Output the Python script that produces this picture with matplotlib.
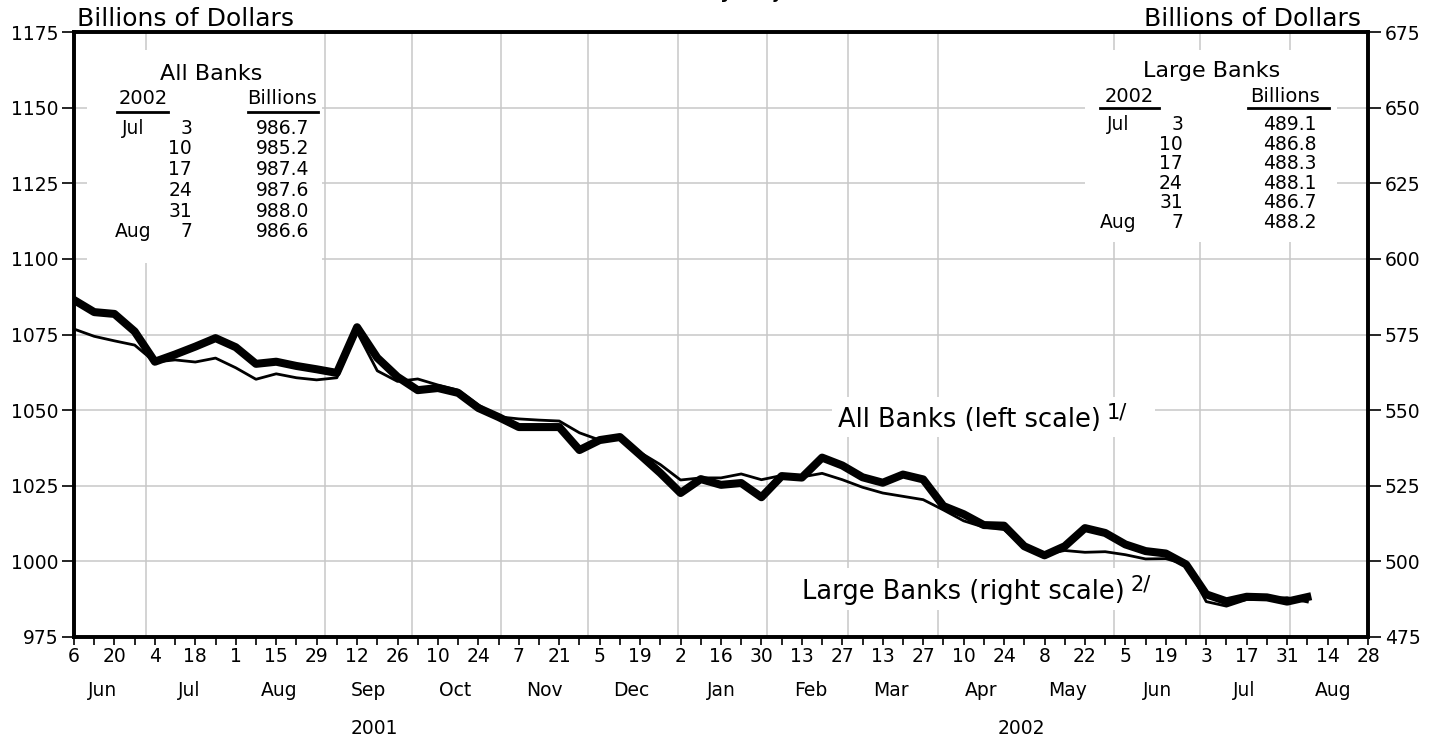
import numpy as np
import pandas as pd
import matplotlib
matplotlib.use('Agg')
import matplotlib.pyplot as plt
import matplotlib.dates as mdates
import matplotlib.transforms as mtransforms
from matplotlib.patches import Rectangle
from matplotlib.lines import Line2D

## weekly data, Wednesdays from Jun 6 2001 to Aug 7 2002
start_week = '2001-06-06'
all_banks = [1076.8, 1074.4, 1072.9, 1071.5, 1065.9, 1066.6, 1065.9, 1067.2, 1064.0, 1060.2,
             1062.0, 1060.7, 1060.0, 1060.7, 1075.8, 1063.0, 1059.5, 1060.3, 1058.3, 1056.6,
             1051.7, 1047.8, 1047.1, 1046.7, 1046.4, 1042.5, 1040.1, 1040.8, 1036.0, 1032.0,
             1026.9, 1027.6, 1027.6, 1028.9, 1027.0, 1028.4, 1027.9, 1029.1, 1027.0, 1024.5,
             1022.6, 1021.5, 1020.4, 1017.0, 1013.4, 1011.3, 1010.5, 1005.0, 1002.3, 1003.6,
             1003.0, 1003.2, 1002.2, 1000.8, 1000.9, 999.0, 986.7, 985.2, 987.4, 987.6,
             988.0, 986.6]
large_banks = [586.4, 582.4, 581.8, 576.0, 566.0, 568.4, 571.0, 573.8, 570.8, 565.3,
               566.0, 564.6, 563.5, 562.3, 577.4, 567.3, 561.0, 556.6, 557.3, 555.7,
               550.7, 547.7, 544.4, 544.4, 544.4, 536.8, 540.1, 541.1, 535.2, 529.2,
               522.6, 527.2, 525.3, 525.9, 521.2, 528.2, 527.7, 534.3, 531.7, 527.8,
               526.0, 528.7, 527.1, 518.3, 515.6, 512.0, 511.8, 505.0, 502.0, 505.0,
               511.0, 509.4, 505.6, 503.4, 502.6, 499.0, 489.1, 486.8, 488.3, 488.1,
               486.7, 488.2]

## inset tables
all_rows = [('Jul', '3', '986.7'), ('', '10', '985.2'), ('', '17', '987.4'),
            ('', '24', '987.6'), ('', '31', '988.0'), ('Aug', '7', '986.6')]
large_rows = [('Jul', '3', '489.1'), ('', '10', '486.8'), ('', '17', '488.3'),
              ('', '24', '488.1'), ('', '31', '486.7'), ('Aug', '7', '488.2')]

mlabels = ['Jun', 'Jul', 'Aug', 'Sep', 'Oct', 'Nov', 'Dec',
           'Jan', 'Feb', 'Mar', 'Apr', 'May', 'Jun', 'Jul', 'Aug']

W, H = 1451, 738
plt.rcParams['font.family'] = ['DejaVu Sans']

def fx(x):
    return x / W

def fy(y):
    return 1 - y / H

fig = plt.figure(figsize=(W / 100, H / 100), dpi=100)
ax = fig.add_axes([fx(74), fy(637), (1368 - 74) / W, (637 - 32) / H])

weeks = pd.date_range(start_week, periods=len(all_banks), freq='7D')
ax.plot(weeks, all_banks, color='black', lw=2.0, zorder=3)
ax.set_ylim(975, 1175)
ax.set_yticks(np.arange(975, 1176, 25))
x0, x1 = pd.Timestamp('2001-06-06'), pd.Timestamp('2002-08-28')
ax.set_xlim(x0, x1)

ax2 = ax.twinx()
ax2.plot(weeks, large_banks, color='black', lw=5.8, zorder=3)
ax2.set_ylim(475, 675)
ax2.set_yticks(np.arange(475, 676, 25))
ax2.set_xlim(x0, x1)

## weekly ticks, every other one labeled
tick_days = pd.date_range(x0, x1, freq='7D')
ax.set_xticks(tick_days)
ax.set_xticklabels([str(d.day) if i % 2 == 0 else '' for i, d in enumerate(tick_days)])
ax.xaxis.set_minor_locator(mdates.MonthLocator())
ax.grid(which='minor', axis='x', color='#c8c8c8', lw=1.1)
ax.grid(which='major', axis='y', color='#c8c8c8', lw=1.1)
ax.grid(which='major', axis='x', visible=False)
ax.tick_params(axis='x', which='major', direction='out', length=6, width=1.2, pad=1, labelsize=13.5)
ax.tick_params(axis='x', which='minor', length=0)
ax.tick_params(axis='y', direction='out', length=9, width=1.2, pad=2, labelsize=13.5)
ax2.tick_params(axis='y', direction='out', length=9, width=1.2, pad=3, labelsize=13.5)
for a in (ax, ax2):
    for s in a.spines.values():
        s.set_linewidth(2.6)

trans = mtransforms.blended_transform_factory(ax.transData, ax.transAxes)
mpos = [pd.Timestamp('2001-06-16')] + [pd.Timestamp(2001 + (m + 6) // 12, (m + 6) % 12 + 1, 16)
                                       for m in range(14)]
for lab, d in zip(mlabels, mpos):
    ax.text(d, -0.088, lab, transform=trans, ha='center', va='center', fontsize=13.5)
ax.text(pd.Timestamp('2001-09-18'), -0.152, '2001', transform=trans, ha='center', va='center', fontsize=13.5)
ax.text(pd.Timestamp('2002-04-30'), -0.152, '2002', transform=trans, ha='center', va='center', fontsize=13.5)

## axis titles
fig.text(fx(77), fy(26), 'Billions of Dollars', ha='left', va='baseline', fontsize=18)
fig.text(fx(1361), fy(26), 'Billions of Dollars', ha='right', va='baseline', fontsize=18)
fig.text(0.5, fy(-3), 'Seasonally adjusted', ha='center', va='baseline', fontsize=18)

## white boxes that break the grid
for (bx0, by0, bx1, by1) in [(87, 50, 322, 263), (1085, 50, 1337, 242),
                             (832, 397, 1155, 437), (795, 568, 1160, 610)]:
    fig.add_artist(Rectangle((fx(bx0), fy(by1)), (bx1 - bx0) / W, (by1 - by0) / H,
                             transform=fig.transFigure, facecolor='white',
                             edgecolor='none', zorder=1))

def draw_table(title, rows, tx, hx, bx, ux1, ux2, mx, dx, vx, ty, hy, uy, ry0, rdy):
    fig.text(fx(tx), fy(ty), title, ha='center', va='center', fontsize=16, zorder=2)
    fig.text(fx(hx), fy(hy), '2002', ha='center', va='center', fontsize=14, zorder=2)
    fig.text(fx(bx), fy(hy), 'Billions', ha='center', va='center', fontsize=14, zorder=2)
    for (u0, u1) in (ux1, ux2):
        fig.add_artist(Line2D([fx(u0), fx(u1)], [fy(uy), fy(uy)], color='black',
                              lw=2, transform=fig.transFigure, zorder=2))
    for i, (m, d, v) in enumerate(rows):
        yy = fy(ry0 + i * rdy)
        fig.text(fx(mx), yy, m, ha='center', va='center', fontsize=13.5, zorder=2)
        fig.text(fx(dx), yy, d, ha='right', va='center', fontsize=13.5, zorder=2)
        fig.text(fx(vx), yy, v, ha='right', va='center', fontsize=13.5, zorder=2)

draw_table('All Banks', all_rows, 211, 143, 282, (117, 168), (248, 318),
           133, 192, 309, 74, 99, 112, 128, 20.8)
draw_table('Large Banks', large_rows, 1212, 1129, 1285, (1100, 1159), (1248, 1329),
           1118, 1183, 1317, 71, 96, 108, 125, 19.4)

## series labels
fig.text(fx(838), fy(420), 'All Banks (left scale)', ha='left', va='center', fontsize=18.5, zorder=2)
fig.text(fx(1107), fy(413), '1/', ha='left', va='center', fontsize=15, zorder=2)
fig.text(fx(802), fy(592), 'Large Banks (right scale)', ha='left', va='center', fontsize=18.5, zorder=2)
fig.text(fx(1131), fy(585), '2/', ha='left', va='center', fontsize=15, zorder=2)

fig.savefig('out.png', dpi=100)
